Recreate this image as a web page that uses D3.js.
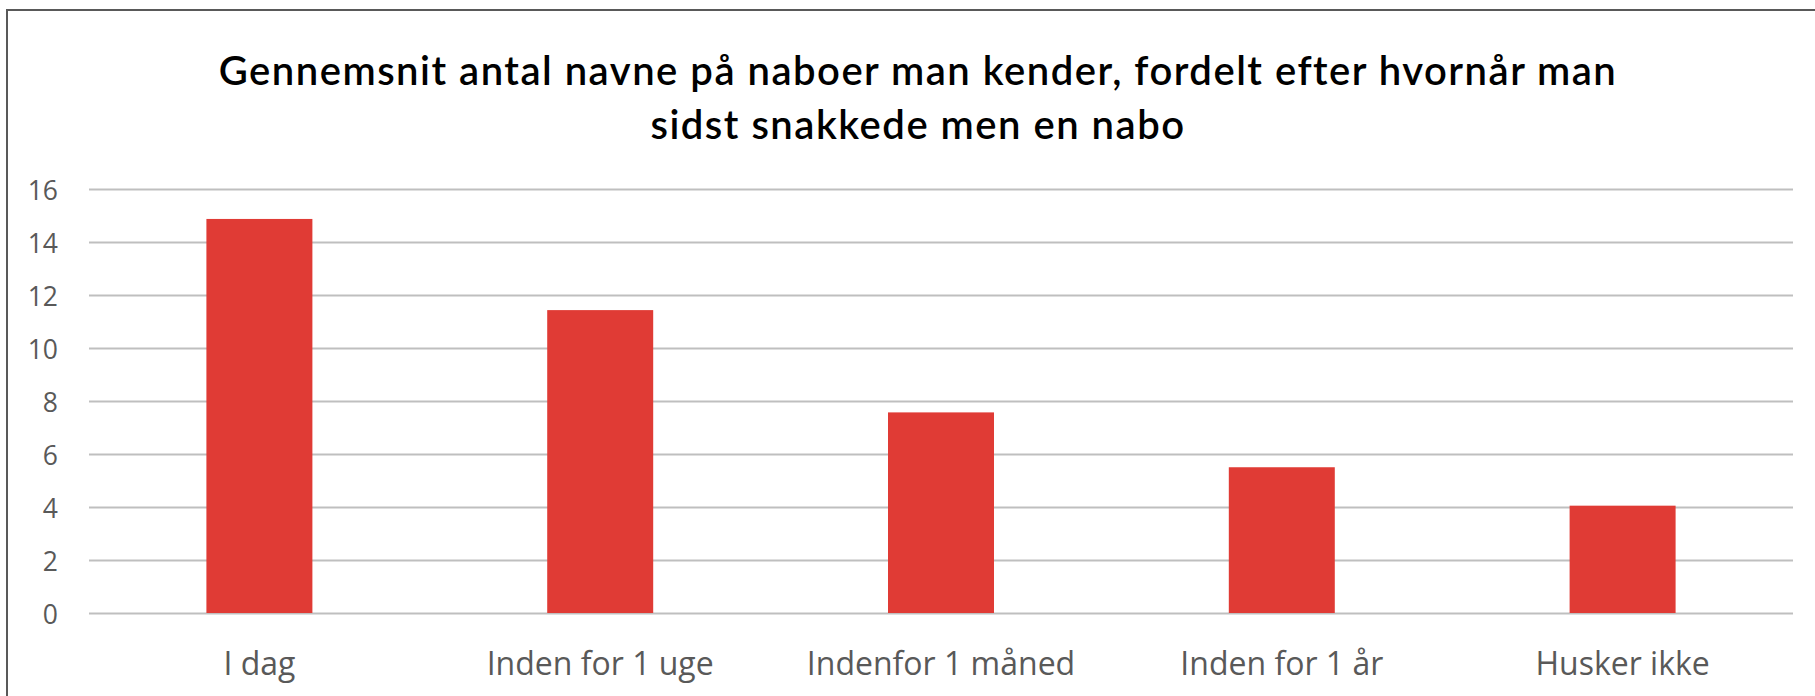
<!DOCTYPE html>
<html>
<head>
    <meta charset="utf-8" />
    <title>Gennemsnit antal navne</title>
    <script src='https://d3js.org/d3.v7.min.js'></script>
    <style>
html, body {
    margin: 0;
    padding: 0;
    background-color: white;
}

svg {
    display: block;
}

.frame {
    fill: white;
    stroke: #595959;
    stroke-width: 2;
}

.bar {
    fill: #e03b35;
}

#title text {
    font-family: 'Lato', sans-serif;
    font-weight: 600;
    font-size: 40px;
    letter-spacing: 1.5px;
    fill: #000;
}

.grid line {
    stroke: #bfbfbf;
    stroke-width: 2;
}

.axis text {
    font-family: 'Open Sans', sans-serif;
    fill: #595959;
}
    </style>
</head>
<body>
    <main></main>
    <script>
const categories = ['I dag', 'Inden for 1 uge', 'Indenfor 1 måned', 'Inden for 1 år', 'Husker ikke'];
const values = [14.87, 11.43, 7.57, 5.5, 4.05];
const yTicks = [0, 2, 4, 6, 8, 10, 12, 14, 16];
const titleLines = ['Gennemsnit antal navne på naboer man kender, fordelt efter hvornår man', 'sidst snakkede men en nabo'];

const w = 1815;
const h = 696;
const plotLeft = 89;
const plotRight = 1793;
const plotTop = 189;
const plotBottom = 613;

const svg = d3.select('main').append('svg').attr('width', w).attr('height', h);

// chart frame runs off the right and bottom edge like the source crop
svg.append('rect').attr('class', 'frame')
    .attr('x', 7).attr('y', 10).attr('width', w).attr('height', h);

svg.append('g').attr('id', 'title')
    .selectAll('text')
    .data(titleLines).enter()
    .append('text')
    .attr('x', 918)
    .attr('y', (d, i) => 85 + i * 54)
    .attr('text-anchor', 'middle')
    .text((d) => d);

const xScale = d3.scaleBand()
    .domain(categories)
    .range([plotLeft, plotRight])
    .paddingInner(0.689)
    .paddingOuter(0.3445);

const yScale = d3.scaleLinear()
    .domain([0, 16])
    .range([plotBottom, plotTop]);

// gridlines
svg.append('g').attr('class', 'grid')
    .attr('transform', 'translate(' + plotLeft + ', 0)')
    .call(d3.axisLeft(yScale).tickValues(yTicks).tickSize(-(plotRight - plotLeft)).tickFormat(''))
    .call((g) => g.select('.domain').remove());

svg.selectAll('.bar')
    .data(values).enter()
    .append('rect')
    .attr('class', 'bar')
    .attr('x', (d, i) => xScale(categories[i]))
    .attr('y', (d) => yScale(d))
    .attr('width', xScale.bandwidth())
    .attr('height', (d) => yScale(0) - yScale(d));

const yAxis = svg.append('g').attr('class', 'axis')
    .attr('transform', 'translate(58, 0)')
    .call(d3.axisLeft(yScale).tickValues(yTicks).tickSize(0).tickPadding(0));
yAxis.select('.domain').remove();
yAxis.selectAll('text').style('font-size', '26.5px').attr('dy', '0.4em');

const xAxis = svg.append('g').attr('class', 'axis')
    .attr('transform', 'translate(0, ' + plotBottom + ')')
    .call(d3.axisBottom(xScale).tickSize(0).tickPadding(0));
xAxis.select('.domain').remove();
xAxis.selectAll('text').style('font-size', '32px').attr('y', 62).attr('dy', 0);
    </script>
</body>
</html>
